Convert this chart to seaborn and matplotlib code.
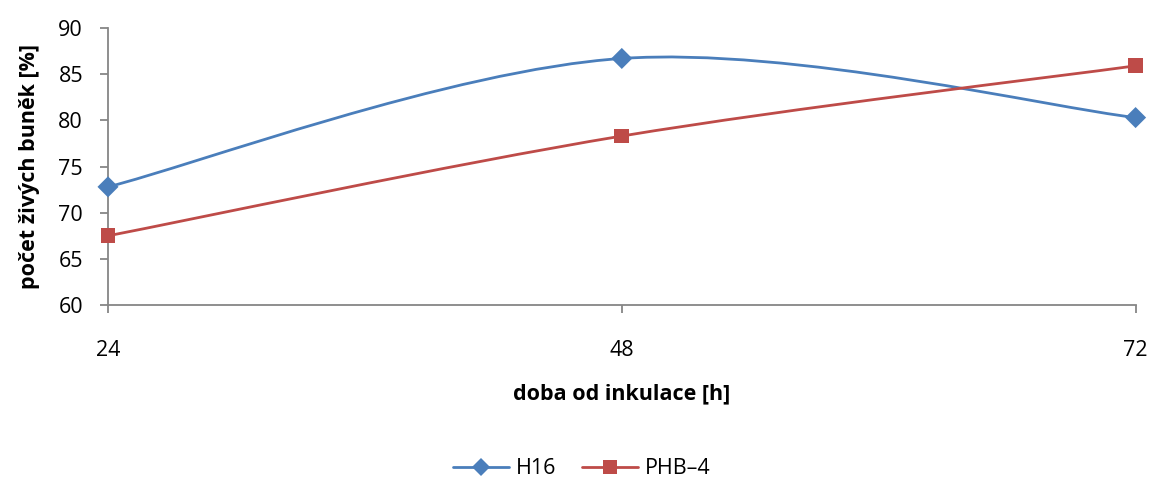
import numpy as np
import pandas as pd
import matplotlib
matplotlib.use("Agg")
import matplotlib.pyplot as plt
from matplotlib.path import Path
from matplotlib.patches import PathPatch
from matplotlib.lines import Line2D
import seaborn as sns

hours = [24, 48, 72]
h16 = [72.8, 86.7, 80.3]
phb4 = [67.5, 78.3, 85.9]
series_names = ["H16", "PHB\u20134"]
y_ticks = [60, 65, 70, 75, 80, 85, 90]

sns.set_theme(style="white")
plt.rcParams['font.family'] = ['Open Sans', 'DejaVu Sans']
plt.rcParams['text.color'] = 'black'
plt.rcParams['axes.labelcolor'] = 'black'
plt.rcParams['xtick.labelcolor'] = 'black'
plt.rcParams['ytick.labelcolor'] = 'black'

df = pd.DataFrame({
    "hours": hours * 2,
    "value": h16 + phb4,
    "series": [series_names[0]] * 3 + [series_names[1]] * 3,
})

colors = {series_names[0]: "#4A7EBB", series_names[1]: "#BE4B48"}
markers = {series_names[0]: "D", series_names[1]: "s"}

fig = plt.figure(figsize=(11.52, 4.82), dpi=100)
ax = fig.add_axes([0.09375, 0.367, 0.892, 0.575])


def smooth_path(xs, ys):
    pts = np.column_stack([xs, ys]).astype(float)
    n = len(pts)
    verts = [pts[0]]
    codes = [Path.MOVETO]
    for i in range(n - 1):
        p0 = pts[i - 1] if i > 0 else pts[i]
        p1 = pts[i]
        p2 = pts[i + 1]
        p3 = pts[i + 2] if i + 2 < n else pts[i + 1]
        c1 = p1 + (p2 - p0) / 6.0
        c2 = p2 - (p3 - p1) / 6.0
        verts += [c1, c2, p2]
        codes += [Path.CURVE4] * 3
    return Path(verts, codes)


for name, vals in zip(series_names, [h16, phb4]):
    patch = PathPatch(smooth_path(hours, vals), facecolor="none",
                      edgecolor=colors[name], lw=2.0, zorder=2,
                      transform=ax.transData)
    ax.add_patch(patch)

sns.scatterplot(data=df, x="hours", y="value", hue="series", style="series",
                palette=colors, markers=markers, s=115, edgecolor="none",
                ax=ax, legend=False, zorder=3, clip_on=False)

ax.set_xlim(24, 72)
ax.set_ylim(60, 90)
ax.set_xticks(hours)
ax.set_xticklabels([str(h) for h in hours])
ax.set_yticks(y_ticks)

for s in ["top", "right"]:
    ax.spines[s].set_visible(False)
for s in ["left", "bottom"]:
    ax.spines[s].set_color("#868686")
    ax.spines[s].set_linewidth(1.3)

ax.tick_params(axis="y", direction="out", length=6, width=1.3, color="#868686",
               labelsize=15.5, pad=12, left=True, labelcolor="black")
ax.tick_params(axis="x", direction="out", length=6, width=1.3, color="#868686",
               labelsize=15.5, pad=19, bottom=True, labelcolor="black")

ax.set_xlabel("doba od inkulace [h]", fontsize=15.5, fontweight="bold",
              labelpad=16, color="black")
ax.set_ylabel("počet živých buněk [%]", fontsize=15.5, fontweight="bold",
              labelpad=13, color="black")

handles = [Line2D([0], [0], color=colors[n], lw=2.0, marker=markers[n],
                  markersize=10.5 if markers[n] == "s" else 9.5, markeredgewidth=0)
           for n in series_names]
leg = fig.legend(handles, series_names, loc="center", bbox_to_anchor=(0.505, 0.027),
                 ncol=2, frameon=False, fontsize=15.5, handlelength=2.6,
                 columnspacing=1.2, handletextpad=0.3)
for t in leg.get_texts():
    t.set_color("black")

fig.savefig("out.png", dpi=100)
